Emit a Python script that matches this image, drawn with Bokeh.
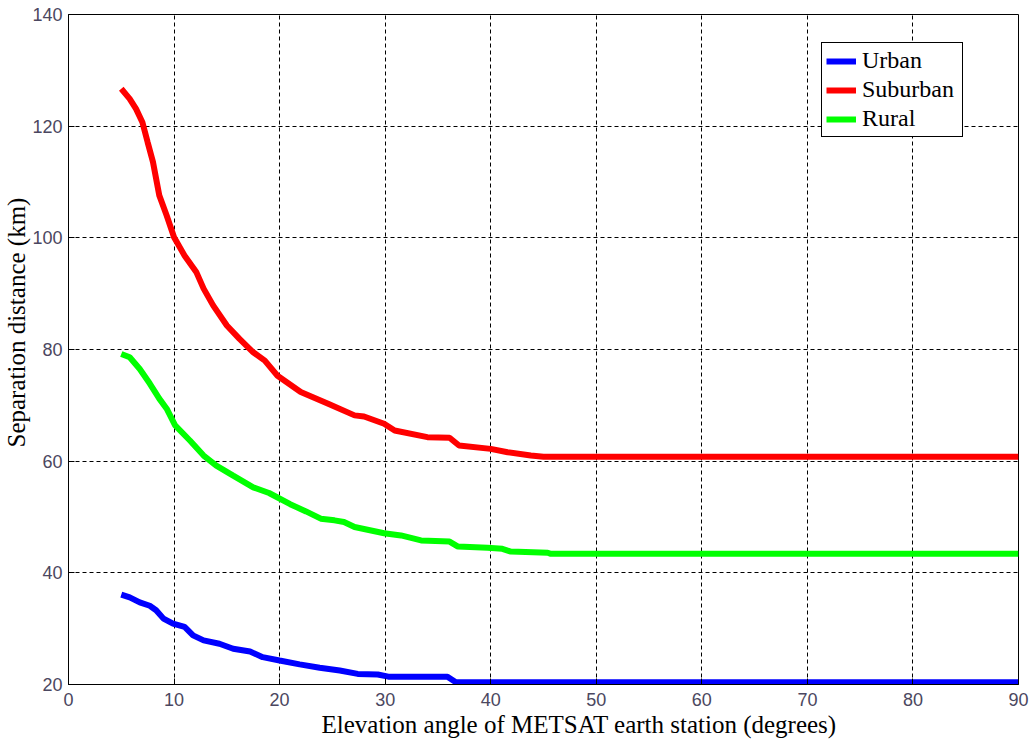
from bokeh.plotting import figure
from bokeh.models import Legend, LegendItem, FixedTicker, Range1d, Title
from bokeh.embed import file_html
from bokeh.resources import INLINE

# ---- data ----
x_ticks = [0, 10, 20, 30, 40, 50, 60, 70, 80, 90]
y_ticks = [20, 40, 60, 80, 100, 120, 140]

urban_x = [5.0, 5.8, 6.75, 7.7, 8.3, 9.0, 9.9, 11.0, 11.8, 12.8, 14.3, 15.6, 17.2, 18.4,
           20.0, 21.9, 23.8, 25.7, 27.4, 29.3, 30.3, 35.9, 36.7, 90.0]
urban_y = [36.1, 35.6, 34.7, 34.1, 33.3, 31.8, 30.9, 30.3, 28.8, 27.9, 27.3, 26.4, 25.9, 24.9,
           24.3, 23.6, 23.0, 22.5, 21.9, 21.8, 21.4, 21.4, 20.4, 20.4]

suburban_x = [5.0, 5.8, 6.4, 7.0, 7.5, 8.0, 8.6, 9.3, 10.0, 11.0, 12.1, 12.8, 13.7, 15.0, 16.2,
              17.5, 18.6, 19.8, 22.0, 24.6, 27.1, 28.0, 29.9, 30.9, 34.0, 36.1, 37.0, 40.0,
              41.6, 43.8, 45.0, 90.0]
suburban_y = [126.7, 124.9, 123.1, 120.7, 117.1, 113.6, 107.6, 104.0, 100.1, 96.8, 93.9, 90.9,
              87.9, 84.3, 81.9, 79.5, 78.0, 75.3, 72.4, 70.3, 68.2, 68.0, 66.7, 65.5, 64.3,
              64.2, 62.8, 62.2, 61.6, 61.0, 60.8, 60.8]

rural_x = [5.0, 5.8, 6.75, 7.7, 8.6, 9.3, 10.1, 11.5, 12.8, 14.0, 15.6, 17.5, 19.0, 21.0, 22.5,
           23.9, 25.2, 26.1, 27.1, 29.9, 31.5, 33.4, 36.1, 36.9, 39.7, 41.1, 41.9, 45.4, 45.7,
           90.0]
rural_y = [79.2, 78.6, 76.5, 73.9, 71.2, 69.4, 66.4, 63.7, 61.0, 59.2, 57.4, 55.3, 54.3, 52.3,
           51.0, 49.7, 49.4, 49.1, 48.2, 47.1, 46.7, 45.8, 45.6, 44.7, 44.5, 44.3, 43.8, 43.6,
           43.4, 43.4]

series_names = ["Urban", "Suburban", "Rural"]
series_colors = ["#0000ff", "#ff0000", "#00ff00"]
x_title = "Elevation angle of METSAT earth station (degrees)"
y_title = "Separation distance (km)"

# ---- figure ----
p = figure(width=1033, height=744, output_backend="svg", toolbar_location=None,
           x_range=Range1d(0, 90), y_range=Range1d(20, 140),
           min_border_left=67, min_border_right=15, min_border_top=14, min_border_bottom=60)
p.background_fill_color = "white"
p.border_fill_color = "white"
p.outline_line_color = "black"
p.outline_line_width = 1
p.outline_line_alpha = 1

p.xaxis.ticker = FixedTicker(ticks=x_ticks)
p.yaxis.ticker = FixedTicker(ticks=y_ticks)

for ax in (p.xaxis, p.yaxis):
    ax.axis_line_color = "black"
    ax.major_tick_line_color = "black"
    ax.major_tick_in = 6
    ax.major_tick_out = 0
    ax.minor_tick_line_color = None
    ax.major_label_text_font = "Liberation Sans"
    ax.major_label_text_font_size = "18px"
    ax.major_label_text_color = "#4b4760"

p.xaxis.major_label_standoff = 8
p.yaxis.major_label_standoff = 6

for g in (p.xgrid, p.ygrid):
    g.grid_line_color = "black"
    g.grid_line_dash = "4 3"
    g.grid_line_width = 1
    g.grid_line_alpha = 1

r_u = p.line(urban_x, urban_y, line_color=series_colors[0], line_width=6)
r_s = p.line(suburban_x, suburban_y, line_color=series_colors[1], line_width=6)
r_r = p.line(rural_x, rural_y, line_color=series_colors[2], line_width=6)

# axis titles (placed slightly off-centre, as in the reference)
p.add_layout(Title(text=x_title, align="left", offset=253, standoff=0,
                   text_font="Liberation Serif", text_font_size="25px",
                   text_font_style="normal", text_color="black"), "below")
p.add_layout(Title(text=y_title, align="left", offset=237, standoff=0,
                   text_font="Liberation Serif", text_font_size="25px",
                   text_font_style="normal", text_color="black"), "left")

legend = Legend(items=[LegendItem(label=series_names[0], renderers=[r_u]),
                       LegendItem(label=series_names[1], renderers=[r_s]),
                       LegendItem(label=series_names[2], renderers=[r_r])],
                location=(753, 547))
legend.border_line_color = "black"
legend.border_line_width = 1
legend.border_line_alpha = 1
legend.background_fill_color = "white"
legend.background_fill_alpha = 1
legend.label_text_font = "Liberation Serif"
legend.label_text_font_size = "24px"
legend.label_text_color = "black"
legend.glyph_width = 30
legend.glyph_height = 24
legend.label_height = 24
legend.label_width = 96
legend.label_standoff = 6
legend.spacing = 2
legend.padding = 4
legend.margin = 0
p.add_layout(legend)

open("out.html", "w").write(file_html(p, INLINE))
